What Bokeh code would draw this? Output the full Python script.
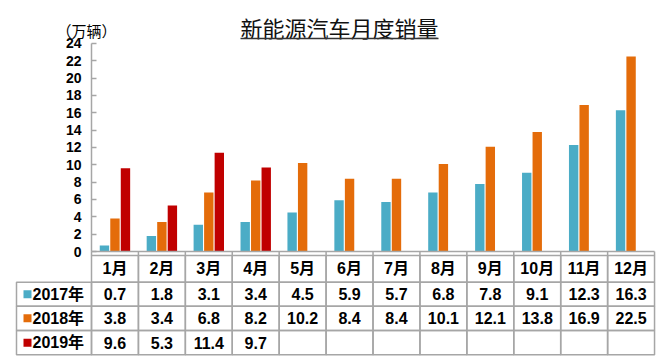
from bokeh.plotting import figure
from bokeh.models import LinearAxis, FixedTicker, Range1d
from bokeh.core.properties import value
from bokeh.embed import file_html
from bokeh.resources import INLINE

# ---------------- data ----------------
months = ["1月", "2月", "3月", "4月", "5月", "6月", "7月", "8月", "9月", "10月", "11月", "12月"]
series_names = ["2017年", "2018年", "2019年"]
sales_2017 = [0.7, 1.8, 3.1, 3.4, 4.5, 5.9, 5.7, 6.8, 7.8, 9.1, 12.3, 16.3]
sales_2018 = [3.8, 3.4, 6.8, 8.2, 10.2, 8.4, 8.4, 10.1, 12.1, 13.8, 16.9, 22.5]
sales_2019 = [9.6, 5.3, 11.4, 9.7]
y_ticks = [0, 2, 4, 6, 8, 10, 12, 14, 16, 18, 20, 22, 24]
title_text = "新能源汽车月度销量"
unit_text = "（万辆）"

colors = ["#4BACC6", "#E46C0A", "#C00000"]
all_series = [sales_2017, sales_2018, sales_2019]

# ---------------- layout helpers (page pixels -> data) ----------------
W, H = 660, 356
PAGE0 = 0  # page position of the figure's top-left corner
PX_PER_MONTH = 46.92
PX_PER_UNIT = 8.667
ORIGIN_X, ORIGIN_Y = 91, 251  # page position of (0, 0)


def xd(px):
    return (px - ORIGIN_X) / PX_PER_MONTH


def yd(py):
    return (ORIGIN_Y - py) / PX_PER_UNIT


GRID = "#A6A6A6"
NUM_FONT_NAME = "Liberation Sans, Noto Sans CJK SC"
NUM_FONT = value(NUM_FONT_NAME)
CJK_FONT = value("Noto Sans CJK SC")

p = figure(width=W, height=H, output_backend="svg", toolbar_location=None,
           x_axis_type=None, y_axis_type=None,
           x_range=Range1d(xd(PAGE0), xd(PAGE0 + W)), y_range=Range1d(yd(PAGE0 + H), yd(PAGE0)),
           min_border=0, min_border_left=0, min_border_right=0,
           min_border_top=0, min_border_bottom=0)
p.outline_line_color = None
p.background_fill_color = "white"
p.border_fill_color = "white"

# ---------------- bars ----------------
offsets = [-0.224, 0.0, 0.224]
bar_w = 0.2
for k, (vals, col) in enumerate(zip(all_series, colors)):
    xs = [i + 0.5 + offsets[k] for i in range(len(vals))]
    p.vbar(x=xs, top=vals, width=bar_w, bottom=0, fill_color=col, line_color=None)

# ---------------- axes ----------------
yaxis = LinearAxis(fixed_location=0, bounds=(0, 24), ticker=FixedTicker(ticks=y_ticks))
yaxis.axis_line_color = GRID
yaxis.axis_line_width = 1.5
yaxis.major_tick_line_color = GRID
yaxis.major_tick_line_width = 1.5
yaxis.major_tick_in = 5
yaxis.major_tick_out = 0
yaxis.minor_tick_line_color = None
yaxis.major_label_standoff = 10
yaxis.major_label_text_font = NUM_FONT_NAME
yaxis.major_label_text_font_style = "bold"
yaxis.major_label_text_font_size = "14px"
yaxis.major_label_text_color = "black"
p.add_layout(yaxis, "left")

xaxis = LinearAxis(fixed_location=0, bounds=(0, 12), ticker=FixedTicker(ticks=list(range(13))))
xaxis.axis_line_color = GRID
xaxis.axis_line_width = 1.5
xaxis.major_tick_line_color = None
xaxis.minor_tick_line_color = None
xaxis.major_label_text_color = None
p.add_layout(xaxis, "below")

# ---------------- table ----------------
row_edges = [yd(255), yd(281.7), yd(305.7), yd(330), yd(354.3)]
row_centers = [(row_edges[i] + row_edges[i + 1]) / 2 for i in range(4)]
row_heights = [row_edges[i] - row_edges[i + 1] for i in range(4)]

# vertical connectors from axis to table top
p.segment(x0=list(range(13)), y0=[0] * 13, x1=list(range(13)), y1=[row_edges[0]] * 13,
          line_color=GRID, line_width=1.5)

cell_x, cell_y, cell_h = [], [], []
for r in range(4):
    for i in range(len(months)):
        cell_x.append(i + 0.5)
        cell_y.append(row_centers[r])
        cell_h.append(row_heights[r])
p.rect(x=cell_x, y=cell_y, width=1, height=cell_h, fill_color=None,
       line_color=GRID, line_width=1.5)

leg_left = xd(16)
leg_w = 0 - leg_left
p.rect(x=[leg_left + leg_w / 2] * 3, y=row_centers[1:], width=leg_w, height=row_heights[1:],
       fill_color=None, line_color=GRID, line_width=1.5)

# header text
p.text(x=[i + 0.5 for i in range(len(months))], y=[row_centers[0]] * len(months), text=months,
       text_align="center", text_baseline="middle", text_font=NUM_FONT,
       text_font_style="bold", text_font_size="16px", text_color="black")

# values
for k, vals in enumerate(all_series):
    p.text(x=[i + 0.5 for i in range(len(vals))], y=[row_centers[k + 1]] * len(vals),
           text=[f"{v:.1f}" for v in vals], text_align="center", text_baseline="middle",
           text_font=NUM_FONT, text_font_style="bold", text_font_size="16px", text_color="black")

# legend column
p.scatter(x=[xd(27)] * 3, y=row_centers[1:], marker="square", size=8,
          fill_color=colors, line_color=None)
p.text(x=[xd(32)] * 3, y=row_centers[1:], text=series_names, text_align="left",
       text_baseline="middle", text_font=NUM_FONT, text_font_style="bold",
       text_font_size="16px", text_color="black")

# ---------------- title & unit ----------------
p.text(x=[xd(339)], y=[yd(26)], text=[title_text], text_align="center", text_baseline="middle",
       text_font=CJK_FONT, text_font_size="22px", text_color="#111111")
p.segment(x0=[xd(240)], y0=[yd(38)], x1=[xd(438)], y1=[yd(38)], line_color="#333333", line_width=1.5)
p.text(x=[xd(86)], y=[yd(30)], text=[unit_text], text_align="center", text_baseline="middle",
       text_font=CJK_FONT, text_font_size="15px", text_color="black")

open("out.html", "w").write(file_html(p, INLINE))
